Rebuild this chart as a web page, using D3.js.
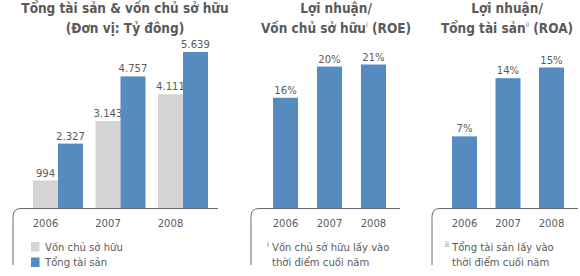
<!DOCTYPE html>
<html>
<head>
<meta charset="utf-8">
<script src="https://cdn.jsdelivr.net/npm/d3@7"></script>
<style>
  html, body { margin: 0; padding: 0; background: #fff; }
  svg { display: block; }
  text { font-family: "DejaVu Sans Condensed", "DejaVu Sans", sans-serif; font-stretch: condensed; }
</style>
</head>
<body>
<svg id="chart" width="580" height="276"></svg>
<script>
// ---- data ----
const years = ["2006", "2007", "2008"];
const equity = [994, 3143, 4111];          // Vốn chủ sở hữu (tỷ đồng)
const assets = [2327, 4757, 5639];         // Tổng tài sản (tỷ đồng)
const roe = [15.9, 20.4, 20.7];            // % (bar heights as read)
const roeLabels = ["16%", "20%", "21%"];
const roa = [7.7, 13.95, 15.1];            // % (bar heights as read)
const roaLabels = ["7%", "14%", "15%"];
const seriesNames = ["Vốn chủ sở hữu", "Tổng tài sản"];

const colGray = "#d4d4d4", colBlue = "#568bbf", txt = "#5a5a5a", lineCol = "#6a6a6a";
const baseY = 208.5;
const fs = 11.2;
const fmt = d3.formatLocale({decimal: ",", thousands: ".", grouping: [3], currency: ["", ""]}).format(",");

const svg = d3.select("#chart");

function title(cx, l1, l2parts) {
  const t = svg.append("text").attr("text-anchor", "middle").attr("fill", txt)
    .attr("font-weight", "bold").attr("font-size", 13.5);
  t.append("tspan").attr("x", cx).attr("y", 13).text(l1);
  const t2 = svg.append("text").attr("text-anchor", "middle").attr("fill", txt)
    .attr("font-weight", "bold").attr("font-size", 13.5).attr("x", cx).attr("y", 33);
  l2parts.forEach(p => {
    const s = t2.append("tspan").text(p.t);
    if (p.sup) s.attr("font-size", 7).attr("font-weight", "normal").attr("dy", -6);
    if (p.after) s.attr("dy", 6);
  });
}

function frame(x0, x1) {
  svg.append("path")
    .attr("d", `M${x0},265 V${baseY + 8} Q${x0},${baseY} ${x0 + 8},${baseY} H${x1}`)
    .attr("fill", "none").attr("stroke", lineCol).attr("stroke-width", 1);
}

// ---- Panel 1 ----
const x1 = d3.scaleBand().domain(years).range([33, 208]).paddingInner(0.2).paddingOuter(0);
const xs1 = d3.scaleBand().domain(["e", "a"]).range([0, x1.bandwidth()]);
const y1 = d3.scaleLinear().domain([0, d3.max(assets)]).range([baseY - 0.5, 52]);

title(125, "Tổng tài sản & vốn chủ sở hữu", [{t: "(Đơn vị: Tỷ đông)"}]);

const g1 = svg.append("g");
years.forEach((yr, i) => {
  [["e", equity[i], colGray], ["a", assets[i], colBlue]].forEach(([k, v, c]) => {
    const bx = x1(yr) + xs1(k);
    g1.append("rect").attr("x", bx).attr("y", y1(v)).attr("width", xs1.bandwidth())
      .attr("height", y1(0) - y1(v)).attr("fill", c);
    g1.append("text").attr("x", bx + xs1.bandwidth() / 2).attr("y", y1(v) - 4)
      .attr("text-anchor", "middle").attr("font-size", fs).attr("fill", txt).text(fmt(v));
  });
  g1.append("text").attr("x", x1(yr) + xs1.bandwidth() / 2).attr("y", 227)
    .attr("text-anchor", "middle").attr("font-size", fs).attr("fill", txt).text(yr);
});
frame(13, 218);

// legend
[colGray, colBlue].forEach((c, i) => {
  svg.append("rect").attr("x", 31).attr("y", 242 + i * 15.5).attr("width", 8.5).attr("height", 9.5).attr("fill", c);
  svg.append("text").attr("x", 45).attr("y", 251 + i * 15).attr("font-size", fs).attr("fill", txt).text(seriesNames[i]);
});

// ---- Panel 2 / 3 ----
function pctPanel(vals, labels, range, pad, yTop, cx, t1, t2parts, fx0, fx1, note, mark, markX, noteX) {
  const x = d3.scaleBand().domain(years).range(range).paddingInner(pad).paddingOuter(0);
  const y = d3.scaleLinear().domain([0, d3.max(vals)]).range([baseY - 0.5, yTop]);
  title(cx, t1, t2parts);
  const g = svg.append("g");
  g.selectAll("rect").data(vals).join("rect")
    .attr("x", (d, i) => x(years[i])).attr("y", d => y(d))
    .attr("width", x.bandwidth()).attr("height", d => y(0) - y(d)).attr("fill", colBlue);
  g.selectAll("text.v").data(vals).join("text").attr("class", "v")
    .attr("x", (d, i) => x(years[i]) + x.bandwidth() / 2).attr("y", d => y(d) - 4)
    .attr("text-anchor", "middle").attr("font-size", fs).attr("fill", txt)
    .text((d, i) => labels[i]);
  g.selectAll("text.yr").data(years).join("text").attr("class", "yr")
    .attr("x", d => x(d) + x.bandwidth() / 2).attr("y", 227)
    .attr("text-anchor", "middle").attr("font-size", fs).attr("fill", txt).text(d => d);
  frame(fx0, fx1);
  svg.append("text").attr("x", markX).attr("y", 247).attr("font-size", 7.5).attr("fill", txt).text(mark);
  note.forEach((l, i) => {
    svg.append("text").attr("x", noteX).attr("y", 251 + i * 14.5).attr("font-size", fs).attr("fill", txt).text(l);
  });
}

pctPanel(roe, roeLabels, [273, 386], 0.43, 64.5, 336, "Lợi nhuận/",
  [{t: "Vốn chủ sở hữu"}, {t: "i", sup: true}, {t: " (ROE)", after: true}],
  251, 400, ["Vốn chủ sở hữu lấy vào", "thời điểm cuối năm"], "i", 267, 272);

pctPanel(roa, roaLabels, [452, 564], 0.425, 67.5, 507, "Lợi nhuận/",
  [{t: "Tổng tài sản"}, {t: "ii", sup: true}, {t: " (ROA)", after: true}],
  432, 578, ["Tổng tài sản lấy vào", "thời điểm cuối năm"], "ii", 445, 452);
</script>
</body>
</html>
